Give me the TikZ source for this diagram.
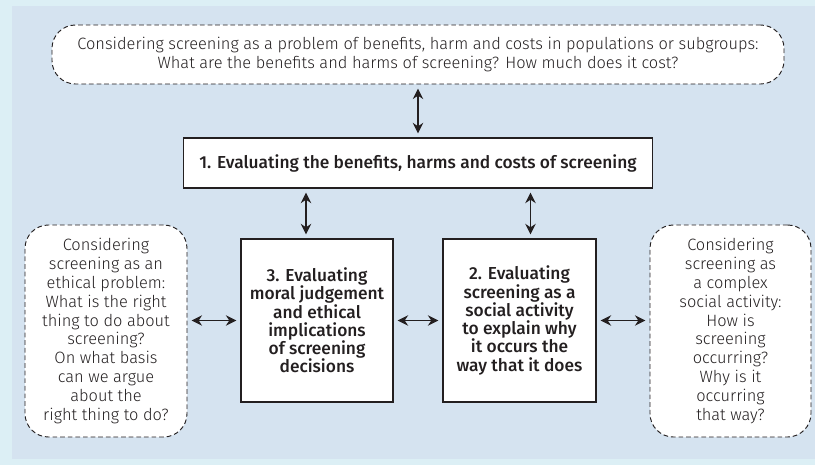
\documentclass[tikz,border=0pt]{standalone}
\usepackage{fontspec}
\setmainfont{Fira Sans}[UprightFont={* Light}, BoldFont={* Medium}]
\usetikzlibrary{arrows.meta, positioning}
\definecolor{pagebg}{HTML}{DCEFF5}
\definecolor{panelbg}{HTML}{D5E3F0}
\definecolor{ink}{HTML}{231F20}

\begin{document}
\begin{tikzpicture}[
  view/.style={draw=ink, dash pattern=on 4pt off 2.5pt, line width=0.8pt, rounded corners=20pt, fill=white, align=center, text=ink, font=\fontsize{14}{16.2}\selectfont, inner sep=0pt},
  task/.style={draw=ink, line width=0.9pt, fill=white, align=center, text=ink, font=\fontsize{14.8}{15.6}\selectfont\bfseries, inner sep=0pt},
  link/.style={{Stealth[length=9pt,width=9pt]}-{Stealth[length=9pt,width=9pt]}, draw=ink, line width=1pt, shorten >=3.5pt, shorten <=3.5pt}
]

% background and panel
\fill[pagebg] (0,0) rectangle (24.45,-13.95);
\useasboundingbox (0,0) rectangle (24.45,-13.95);
\fill[panelbg] (0.36,-0.18) rectangle (24.45,-13.77);

% Top: population view
\node[view, minimum width=21.96cm, minimum height=1.77cm] (popview) at (12.54,-1.635) {Considering screening as a problem of benefits, harm and costs in populations or subgroups:\\What are the benefits and harms of screening? How much does it cost?};

% Row 1: approach 1
\node[task, minimum width=14.07cm, minimum height=1.5cm] (eval1) at (12.54,-4.89) {1. Evaluating the benefits, harms and costs of screening};

% Row 2: approaches 3 and 2
\node[task, minimum width=4.56cm, minimum height=4.89cm] (eval3) at (9.51,-9.615) {3. Evaluating\\moral judgement\\and ethical\\implications\\of screening\\decisions};
\node[task, minimum width=4.59cm, minimum height=4.89cm] (eval2) at (15.585,-9.615) {2. Evaluating\\screening as a\\social activity\\to explain why\\it occurs the\\way that it does};

% Side views
\node[view, minimum width=4.86cm, minimum height=6.36cm] (ethicview) at (3.18,-9.93) {Considering\\screening as an\\ethical problem:\\What is the right\\thing to do about\\screening?\\On what basis\\can we argue\\about the\\right thing to do?};
\node[view, minimum width=4.83cm, minimum height=6.36cm] (socialview) at (21.915,-9.93) {Considering\\screening as\\a complex\\social activity:\\How is\\screening\\occurring?\\Why is it\\occurring\\that way?};

% vertical links
\draw[link] (popview) -- (eval1);
\draw[link] ([xshift=-0.33cm]eval3.north) -- ([xshift=-0.33cm]eval3.north |- eval1.south);
\draw[link] ([xshift=0.33cm]eval2.north) -- ([xshift=0.33cm]eval2.north |- eval1.south);

% horizontal links
\draw[link] (ethicview.east |- eval3.east) -- (eval3.west);
\draw[link] (eval3) -- (eval2);
\draw[link] (eval2.east) -- (eval2.east -| socialview.west);

\end{tikzpicture}
\end{document}
